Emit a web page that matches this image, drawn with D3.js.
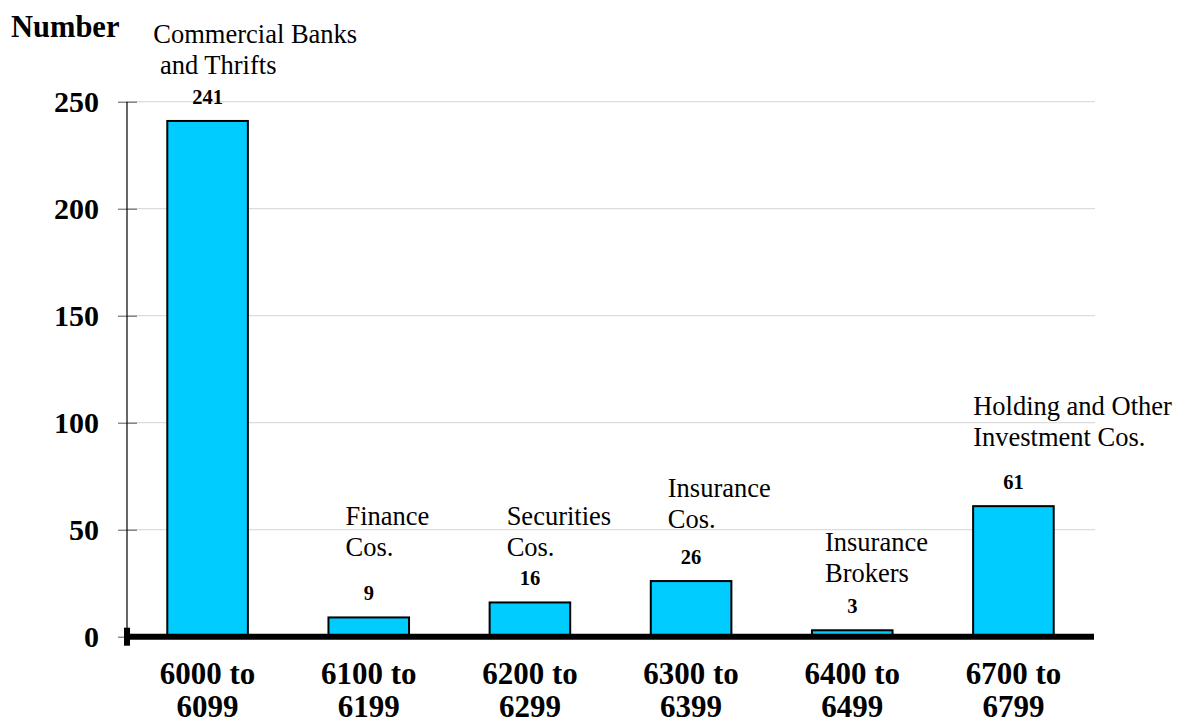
<!DOCTYPE html>
<html>
<head>
<meta charset="utf-8">
<script src="https://cdn.jsdelivr.net/npm/d3@7"></script>
<style>
  html, body { margin: 0; padding: 0; background: #fff; }
  svg { display: block; }
  svg text { font-family: "Liberation Serif", "Times New Roman", Times, serif; fill: #000; }
</style>
</head>
<body>
<svg id="chart" width="1178" height="725"></svg>
<script>
// ---- data ----
const categories = ["6000 to 6099", "6100 to 6199", "6200 to 6299", "6300 to 6399", "6400 to 6499", "6700 to 6799"];
const categoryLines = [["6000 to", "6099"], ["6100 to", "6199"], ["6200 to", "6299"], ["6300 to", "6399"], ["6400 to", "6499"], ["6700 to", "6799"]];
const values = [241, 9, 16, 26, 3, 61];
const groupNames = [
  ["Commercial Banks", " and Thrifts"],
  ["Finance", "Cos."],
  ["Securities", "Cos."],
  ["Insurance", "Cos."],
  ["Insurance", "Brokers"],
  ["Holding and Other", "Investment Cos."]
];
const yTicks = [0, 50, 100, 150, 200, 250];
const yTitle = "Number";

// ---- layout (separate from data) ----
const FONT = "'Liberation Serif', 'Times New Roman', Times, serif";
const plot = { left: 127, right: 1094, top: 101.7, bottom: 636.7 };
// annotation anchor: dx from bar's left edge, baseline y in px
const annotLayout = [
  { dx: -14, y: 43 },
  { dx: 17, y: 525 },
  { dx: 17, y: 525 },
  { dx: 17, y: 497 },
  { dx: 13, y: 551 },
  { dx: 0, y: 415 }
];

const svg = d3.select("#chart");

const x = d3.scaleBand()
  .domain(categories)
  .range([plot.left, plot.right])
  .paddingInner(0.5)
  .paddingOuter(0.25);

const y = d3.scaleLinear()
  .domain([0, 250])
  .range([plot.bottom, plot.top]);

// gridlines
svg.append("g")
  .selectAll("line")
  .data(yTicks.filter(d => d > 0))
  .join("line")
  .attr("x1", plot.left)
  .attr("x2", plot.right + 1)
  .attr("y1", d => y(d))
  .attr("y2", d => y(d))
  .attr("stroke", "#d4d4d4")
  .attr("stroke-width", 1);

// y axis
const yAxis = d3.axisLeft(y)
  .tickValues(yTicks)
  .tickSize(0)
  .tickPadding(0)
  .tickFormat(d3.format("d"));

const yg = svg.append("g")
  .attr("transform", `translate(${plot.left},0)`)
  .call(yAxis);
yg.attr("font-family", FONT);
yg.select(".domain").remove();
yg.selectAll(".tick text")
  .attr("x", -28)
  .attr("dy", "0.34em")
  .style("font-family", FONT)
  .style("font-size", "30px")
  .style("font-weight", "bold")
  .attr("fill", "#000");
// tick marks crossing the axis
yg.selectAll(".tick").append("line")
  .attr("x1", -9).attr("x2", 10)
  .attr("y1", 0).attr("y2", 0)
  .attr("stroke", "#555")
  .attr("stroke-width", 1);

// axis vertical line
svg.append("line")
  .attr("x1", plot.left).attr("x2", plot.left)
  .attr("y1", y(250)).attr("y2", y(0))
  .attr("stroke", "#000").attr("stroke-width", 1.2);

// bars
svg.append("g")
  .selectAll("rect")
  .data(values)
  .join("rect")
  .attr("x", (d, i) => x(categories[i]))
  .attr("y", d => y(d))
  .attr("width", x.bandwidth())
  .attr("height", d => y(0) - y(d))
  .attr("fill", "#00CCFF")
  .attr("stroke", "#000")
  .attr("stroke-width", 2);

// baseline (thick)
svg.append("line")
  .attr("x1", plot.left).attr("x2", plot.right)
  .attr("y1", y(0)).attr("y2", y(0))
  .attr("stroke", "#000").attr("stroke-width", 6);
svg.append("line")
  .attr("x1", plot.left).attr("x2", plot.left)
  .attr("y1", y(0) - 9).attr("y2", y(0) + 9)
  .attr("stroke", "#000").attr("stroke-width", 6);

// value labels
svg.append("g")
  .selectAll("text")
  .data(values)
  .join("text")
  .attr("x", (d, i) => x(categories[i]) + x.bandwidth() / 2)
  .attr("y", d => y(d) - 17)
  .attr("text-anchor", "middle")
  .style("font-family", FONT)
  .style("font-size", "20.5px")
  .style("font-weight", "bold")
  .text(d => d);

// category labels
const cg = svg.append("g")
  .selectAll("text")
  .data(categoryLines)
  .join("text")
  .attr("x", (d, i) => x(categories[i]) + x.bandwidth() / 2)
  .attr("y", 684)
  .attr("text-anchor", "middle")
  .style("font-family", FONT)
  .style("font-size", "31px")
  .style("font-weight", "bold");
cg.selectAll("tspan")
  .data(d => d)
  .join("tspan")
  .attr("x", function () { return d3.select(this.parentNode).attr("x"); })
  .attr("dy", (d, i) => i === 0 ? 0 : 33)
  .text(d => d);

// group annotations
const ag = svg.append("g")
  .selectAll("text")
  .data(groupNames)
  .join("text")
  .attr("x", (d, i) => x(categories[i]) + annotLayout[i].dx)
  .attr("y", (d, i) => annotLayout[i].y)
  .style("font-family", FONT)
  .style("font-size", "26.5px")
  .style("white-space", "pre")
  .attr("xml:space", "preserve");
ag.selectAll("tspan")
  .data(d => d)
  .join("tspan")
  .attr("x", function () { return d3.select(this.parentNode).attr("x"); })
  .attr("dy", (d, i) => i === 0 ? 0 : 31)
  .text(d => d);

// y title
svg.append("text")
  .attr("x", 11)
  .attr("y", 37)
  .style("font-family", FONT)
  .style("font-size", "30.5px")
  .style("font-weight", "bold")
  .text(yTitle);
</script>
</body>
</html>
